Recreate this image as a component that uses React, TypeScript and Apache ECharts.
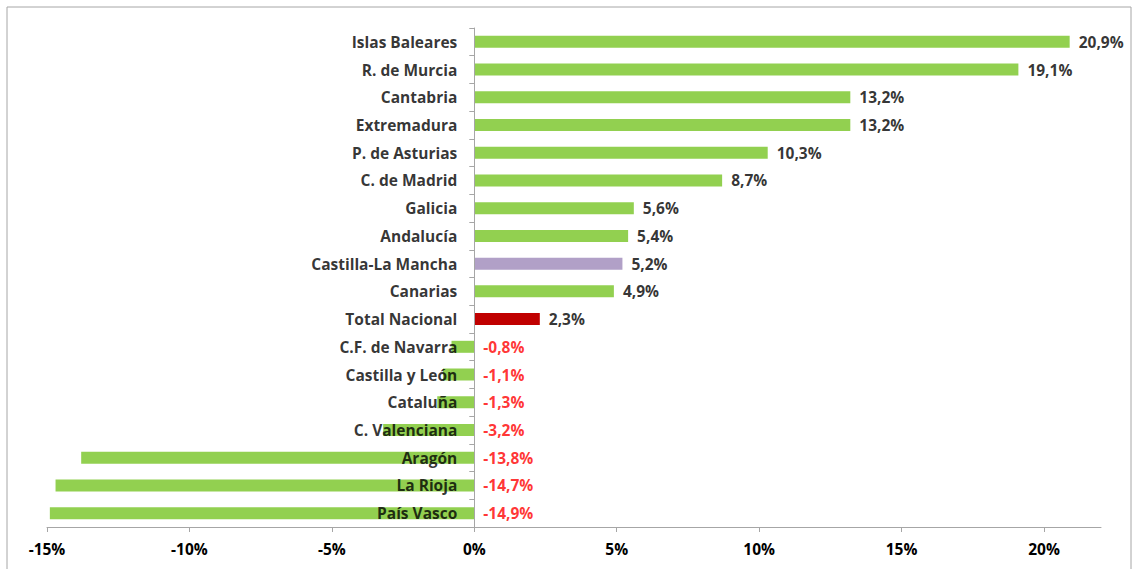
import React, { useEffect, useRef } from "react";
import * as echarts from "echarts";

const categories = [
  "Islas Baleares",
  "R. de Murcia",
  "Cantabria",
  "Extremadura",
  "P. de Asturias",
  "C. de Madrid",
  "Galicia",
  "Andalucía",
  "Castilla-La Mancha",
  "Canarias",
  "Total Nacional",
  "C.F. de Navarra",
  "Castilla y León",
  "Cataluña",
  "C. Valenciana",
  "Aragón",
  "La Rioja",
  "País Vasco",
];

const values = [20.9, 19.1, 13.2, 13.2, 10.3, 8.7, 5.6, 5.4, 5.2, 4.9, 2.3, -0.8, -1.1, -1.3, -3.2, -13.8, -14.7, -14.9];

const tickValues = [-15, -10, -5, 0, 5, 10, 15, 20];

const GREEN = "#92D050";
const PURPLE = "#B1A0C7";
const DARKRED = "#C00000";
const FONT = "'Open Sans', Lato, sans-serif";
const FS = 15.5;

function barColor(name: string): string {
  if (name === "Castilla-La Mancha") return PURPLE;
  if (name === "Total Nacional") return DARKRED;
  return GREEN;
}

function fmt(v: number): string {
  return v.toFixed(1).replace(".", ",") + "%";
}

export default function App() {
  const ref = useRef<HTMLDivElement>(null);
  useEffect(() => {
    if (!ref.current) return;
    const chart = echarts.init(ref.current, undefined, { renderer: "svg" });
    chart.setOption({
      animation: false,
      backgroundColor: "#ffffff",
      graphic: [
        {
          type: "rect",
          shape: { x: 7, y: 7, width: 1124, height: 580 },
          style: { fill: "none", stroke: "#A6A6A6", lineWidth: 1 },
          silent: true,
        },
      ],
      grid: { left: 47, right: 33, top: 28, bottom: 42, containLabel: false, outerBoundsMode: "none" },
      xAxis: {
        type: "value",
        min: -15,
        max: 22,
        interval: 5,
        splitLine: { show: false },
        axisLine: { show: true, lineStyle: { color: "#A6A6A6", width: 1 } },
        axisTick: { show: true, length: 5, lineStyle: { color: "#A6A6A6" }, customValues: tickValues },
        axisLabel: {
          customValues: tickValues,
          formatter: (v: number) => v + "%",
          fontFamily: FONT,
          fontWeight: "bold",
          fontSize: FS,
          color: "#000",
          margin: 14,
        },
      },
      yAxis: {
        type: "category",
        data: categories,
        inverse: true,
        z: 10,
        axisLine: { show: true, onZero: true, lineStyle: { color: "#A6A6A6", width: 1 } },
        axisTick: { show: true, length: 5, lineStyle: { color: "#A6A6A6" } },
        axisLabel: { show: false },
      },
      series: [
        {
          type: "bar",
          barWidth: 12,
          data: categories.map((c, i) => ({
            value: values[i],
            itemStyle: { color: barColor(c) },
          })),
        },
        {
          type: "scatter",
          symbolSize: 0,
          silent: true,
          z: 11,
          data: categories.map((c, i) => ({
            value: [Math.max(values[i], 0), i, values[i]],
            label: { color: values[i] < 0 ? "#FF0000" : "#000000" },
          })),
          label: {
            show: true,
            position: "right",
            distance: 9,
            fontFamily: FONT,
            fontWeight: "bold",
            fontSize: FS,
            formatter: (p: any) => fmt(p.value[2]),
          },
          encode: { x: 0, y: 1 },
        },
        {
          type: "scatter",
          symbolSize: 0,
          silent: true,
          z: 12,
          data: categories.map((c, i) => [0, i]),
          label: {
            show: true,
            position: "left",
            distance: 17,
            fontFamily: FONT,
            fontWeight: "bold",
            fontSize: FS,
            color: "#000",
            formatter: (p: any) => categories[p.dataIndex],
          },
          encode: { x: 0, y: 1 },
        },
      ],
    });
    return () => chart.dispose();
  }, []);
  return (
    <div
      ref={ref}
      style={{ position: "absolute", left: 0, top: 0, width: 1134, height: 569 }}
    />
  );
}
